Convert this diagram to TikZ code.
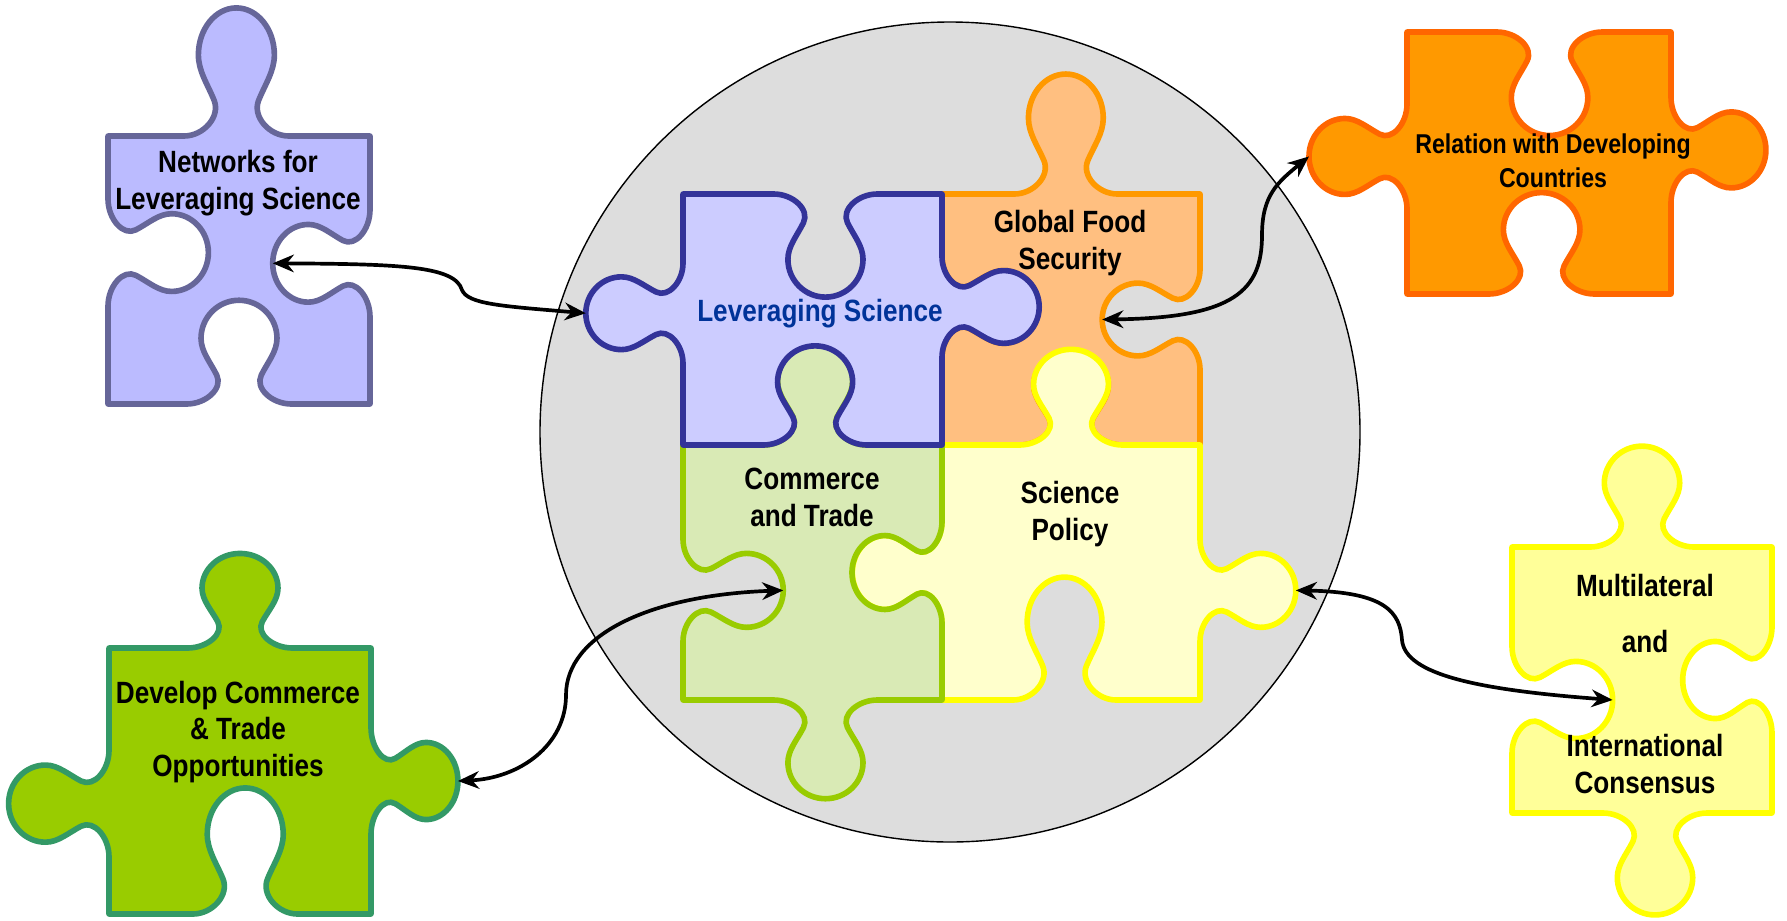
\documentclass[tikz,border=0pt]{standalone}
\usepackage{fontspec}
\setmainfont{Liberation Sans}[FakeStretch=0.85]
\usetikzlibrary{arrows.meta}

\definecolor{netfill}{HTML}{BBBBFF}
\definecolor{netline}{HTML}{666699}
\definecolor{levfill}{HTML}{CCCCFF}
\definecolor{levline}{HTML}{333399}
\definecolor{levtext}{HTML}{003399}
\definecolor{foodfill}{HTML}{FFBF80}
\definecolor{foodline}{HTML}{FF9900}
\definecolor{tradefill}{HTML}{D9EAB5}
\definecolor{tradeline}{HTML}{99CC00}
\definecolor{polfill}{HTML}{FFFFCC}
\definecolor{polline}{HTML}{FFFF00}
\definecolor{relfill}{HTML}{FF9900}
\definecolor{relline}{HTML}{FF6600}
\definecolor{devfill}{HTML}{99CC00}
\definecolor{devline}{HTML}{339966}
\definecolor{multfill}{HTML}{FFFF99}
\definecolor{multline}{HTML}{FFFF00}
\definecolor{ringfill}{HTML}{DDDDDD}

\tikzset{
  piece/.style={line width=3.2pt, line join=round},
  lbl/.style={font=\bfseries\fontsize{17.5}{21}\selectfont, align=center, inner sep=0pt},
  link/.style={{Stealth[length=12pt,width=10pt]}-{Stealth[length=12pt,width=10pt]}, line width=2.1pt},
  % sides of a piece: #1 = knob (+ tab, - blank), #2 = shift of the knob
  pztop/.style 2 args={insert path={
    -- ({-0.40+(#2)},1)
    .. controls ({-0.25+(#2)},1) and ({-0.12+(#2)},{1+0.12*(#1)}) .. ({-0.17+(#2)},{1+0.22*(#1)})
    .. controls ({-0.22+(#2)},{1+0.32*(#1)}) and ({-0.29+(#2)},{1+0.40*(#1)}) .. ({-0.29+(#2)},{1+0.50*(#1)})
    .. controls ({-0.29+(#2)},{1+0.66*(#1)}) and ({-0.16+(#2)},{1+0.79*(#1)}) .. ({#2},{1+0.79*(#1)})
    .. controls ({0.16+(#2)},{1+0.79*(#1)}) and ({0.29+(#2)},{1+0.66*(#1)}) .. ({0.29+(#2)},{1+0.50*(#1)})
    .. controls ({0.29+(#2)},{1+0.40*(#1)}) and ({0.22+(#2)},{1+0.32*(#1)}) .. ({0.17+(#2)},{1+0.22*(#1)})
    .. controls ({0.12+(#2)},{1+0.12*(#1)}) and ({0.25+(#2)},1) .. ({0.40+(#2)},1)
    -- (1,1)}},
  pzright/.style 2 args={insert path={
    -- (1,{0.40+(#2)})
    .. controls (1,{0.25+(#2)}) and ({1+0.12*(#1)},{0.12+(#2)}) .. ({1+0.22*(#1)},{0.17+(#2)})
    .. controls ({1+0.32*(#1)},{0.22+(#2)}) and ({1+0.40*(#1)},{0.29+(#2)}) .. ({1+0.50*(#1)},{0.29+(#2)})
    .. controls ({1+0.66*(#1)},{0.29+(#2)}) and ({1+0.79*(#1)},{0.16+(#2)}) .. ({1+0.79*(#1)},{#2})
    .. controls ({1+0.79*(#1)},{-0.16+(#2)}) and ({1+0.66*(#1)},{-0.29+(#2)}) .. ({1+0.50*(#1)},{-0.29+(#2)})
    .. controls ({1+0.40*(#1)},{-0.29+(#2)}) and ({1+0.32*(#1)},{-0.22+(#2)}) .. ({1+0.22*(#1)},{-0.17+(#2)})
    .. controls ({1+0.12*(#1)},{-0.12+(#2)}) and (1,{-0.25+(#2)}) .. (1,{-0.40+(#2)})
    -- (1,-1)}},
  pzbottom/.style 2 args={insert path={
    -- ({0.40+(#2)},-1)
    .. controls ({0.25+(#2)},-1) and ({0.12+(#2)},{-1-0.12*(#1)}) .. ({0.17+(#2)},{-1-0.22*(#1)})
    .. controls ({0.22+(#2)},{-1-0.32*(#1)}) and ({0.29+(#2)},{-1-0.40*(#1)}) .. ({0.29+(#2)},{-1-0.50*(#1)})
    .. controls ({0.29+(#2)},{-1-0.66*(#1)}) and ({0.16+(#2)},{-1-0.79*(#1)}) .. ({#2},{-1-0.79*(#1)})
    .. controls ({-0.16+(#2)},{-1-0.79*(#1)}) and ({-0.29+(#2)},{-1-0.66*(#1)}) .. ({-0.29+(#2)},{-1-0.50*(#1)})
    .. controls ({-0.29+(#2)},{-1-0.40*(#1)}) and ({-0.22+(#2)},{-1-0.32*(#1)}) .. ({-0.17+(#2)},{-1-0.22*(#1)})
    .. controls ({-0.12+(#2)},{-1-0.12*(#1)}) and ({-0.25+(#2)},-1) .. ({-0.40+(#2)},-1)
    -- (-1,-1)}},
  pzleft/.style 2 args={insert path={
    -- (-1,{-0.40+(#2)})
    .. controls (-1,{-0.25+(#2)}) and ({-1-0.12*(#1)},{-0.12+(#2)}) .. ({-1-0.22*(#1)},{-0.17+(#2)})
    .. controls ({-1-0.32*(#1)},{-0.22+(#2)}) and ({-1-0.40*(#1)},{-0.29+(#2)}) .. ({-1-0.50*(#1)},{-0.29+(#2)})
    .. controls ({-1-0.66*(#1)},{-0.29+(#2)}) and ({-1-0.79*(#1)},{-0.16+(#2)}) .. ({-1-0.79*(#1)},{#2})
    .. controls ({-1-0.79*(#1)},{0.16+(#2)}) and ({-1-0.66*(#1)},{0.29+(#2)}) .. ({-1-0.50*(#1)},{0.29+(#2)})
    .. controls ({-1-0.40*(#1)},{0.29+(#2)}) and ({-1-0.32*(#1)},{0.22+(#2)}) .. ({-1-0.22*(#1)},{0.17+(#2)})
    .. controls ({-1-0.12*(#1)},{0.12+(#2)}) and (-1,{0.25+(#2)}) .. (-1,{0.40+(#2)})
    -- (-1,1)}}
}

\begin{document}
\begin{tikzpicture}[x=0.02cm, y=-0.02cm]
\useasboundingbox (0,0) rectangle (1787,920);

\draw[fill=ringfill, line width=0.8pt] (950,432) circle (410);

% outer pieces
\begin{scope}[shift={(239,270)}, xscale=131, yscale=-134]
  \draw[piece, draw=netline, fill=netfill] (-1,1) [pztop={1.21}{-0.02}] [pzright={-0.94}{0.05}]
    [pzbottom={-0.98}{0}] [pzleft={-0.97}{0.13}] -- cycle;
  \coordinate (nlsR) at ({1-0.94*0.79},0.05);
\end{scope}

\begin{scope}[shift={(1539,163)}, xscale=132, yscale=-131]
  \draw[piece, draw=relline, fill=relfill] (-1,1) [pztop={-1.0}{0.08}] [pzright={0.91}{0.1}]
    [pzbottom={-0.98}{0.02}] [pzleft={0.94}{0.05}] -- cycle;
  \coordinate (rdcL) at ({-1-0.94*0.79},0.05);
\end{scope}

\begin{scope}[shift={(240,781)}, xscale=131, yscale=-133]
  \draw[piece, draw=devline, fill=devfill] (-1,1) [pztop={0.90}{0}] [pzright={0.84}{0}]
    [pzbottom={-1.2}{0.04}] [pzleft={0.97}{-0.17}] -- cycle;
  \coordinate (dctoR) at ({1+0.84*0.79},0);
\end{scope}

\begin{scope}[shift={(1642,680)}, xscale=130, yscale=-133]
  \draw[piece, draw=multline, fill=multfill] (-1,1) [pztop={0.96}{0}] [pzright={-0.87}{0}]
    [pzbottom={0.97}{0.1}] [pzleft={-0.98}{-0.15}] -- cycle;
  \coordinate (micL) at ({-1+0.98*0.79},-0.15);
\end{scope}

% pieces in the circle
\begin{scope}[shift={(1071,319.5)}, xscale=129, yscale=-125.5]
  \draw[piece, draw=foodline, fill=foodfill] (-1,1) [pztop={1.21}{-0.04}] [pzright={-0.96}{0}]
    [pzbottom={-0.95}{0}] [pzleft={-0.95}{0.1}] -- cycle;
  \coordinate (gfsR) at ({1-0.96*0.79},0);
\end{scope}

\begin{scope}[shift={(1071,572.5)}, xscale=129, yscale=-127.5]
  \draw[piece, draw=polline, fill=polfill] (-1,1) [pztop={0.95}{0}] [pzright={0.94}{-0.14}]
    [pzbottom={-1.22}{-0.05}] [pzleft={0.88}{0}] -- cycle;
  \coordinate (spR) at ({1+0.94*0.79},-0.14);
\end{scope}

\begin{scope}[shift={(812.5,572.5)}, xscale=129.5, yscale=-127.5]
  \draw[piece, draw=tradeline, fill=tradefill] (-1,1) [pztop={1.0}{0.02}] [pzright={-0.88}{0}]
    [pzbottom={0.98}{0.1}] [pzleft={-0.98}{-0.14}] -- cycle;
  \coordinate (ctL) at ({-1+0.98*0.79},-0.14);
\end{scope}

\begin{scope}[shift={(812.5,319.5)}, xscale=129.5, yscale=-125.5]
  \draw[piece, draw=levline, fill=levfill] (-1,1) [pztop={-1.04}{0.1}] [pzright={0.95}{0.1}]
    [pzbottom={-1.0}{0.02}] [pzleft={0.95}{0.05}] -- cycle;
  \coordinate (lsL) at ({-1-0.95*0.79},0.05);
\end{scope}

% labels
\node[lbl] (netTxt) at (238,183) {Networks for\\Leveraging Science};
\node[lbl, text=levtext] (levTxt) at (820,314) {Leveraging Science};
\node[lbl] (foodTxt) at (1070,243) {Global Food\\Security};
\node[lbl] (tradeTxt) at (812,497) {Commerce\\and Trade};
\node[lbl] (polTxt) at (1070,514) {Science\\Policy};
\node[lbl, font=\bfseries\fontsize{15.5}{19.5}\selectfont] (relTxt) at (1553,161) {Relation with Developing\\Countries};
\node[lbl] (devTxt) at (238,732) {Develop Commerce\\\& Trade\\Opportunities};
\node[lbl] (multTxt) at (1645,684) {Multilateral\\[11pt]and\\[38pt]International\\Consensus};

% links
\draw[link] (nlsR) .. controls (400,264) and (455,266) .. (462,290) .. controls (468,304) and (500,306) .. (lsL);
\draw[link] (gfsR) .. controls (1235,318) and (1262,290) .. (1262,235) .. controls (1262,195) and (1278,182) .. (rdcL);
\draw[link] (ctL) .. controls (650,595) and (566,635) .. (566,695) .. controls (566,745) and (520,778) .. (dctoR);
\draw[link] (spR) .. controls (1385,592) and (1400,612) .. (1402,640) .. controls (1405,675) and (1480,690) .. (micL);
\end{tikzpicture}
\end{document}
